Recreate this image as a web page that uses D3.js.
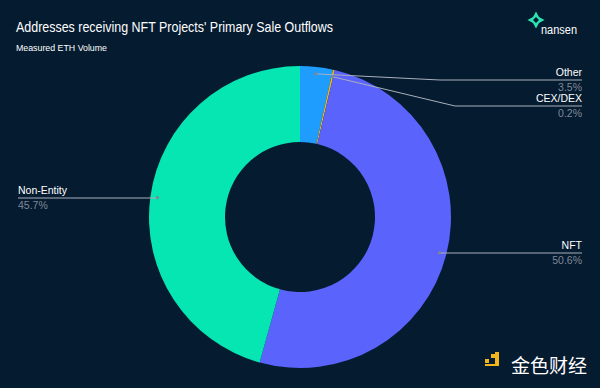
<!DOCTYPE html>
<html>
<head>
<meta charset="utf-8">
<script src="https://d3js.org/d3.v7.min.js"></script>
<style>
body { margin: 0; background: #051b30; }
text { font-family: "Liberation Sans", Arial, sans-serif; }
</style>
</head>
<body>
<script>
// chart data
var categories = ["Other", "CEX/DEX", "NFT", "Non-Entity"];
var shares = [3.5, 0.2, 50.6, 45.7];
var colors = ["#1e9dff", "#e9b824", "#5a63fb", "#05e6b3"];
// label placement: side of the chart and y of the leader line
var labelSide = ["right", "right", "right", "left"];
var labelLineY = [80, 106, 253, 198];

var W = 600, H = 388;
var cx = 300, cy = 217;
var rOuter = 151, rInner = 75;

var svg = d3.select("body").append("svg")
  .attr("width", W).attr("height", H);

svg.append("rect").attr("width", W).attr("height", H).attr("fill", "#051b30");

//TITLE
svg.append("text").attr("x", 16).attr("y", 32)
  .attr("font-size", 14).attr("fill", "#ffffff")
  .attr("textLength", 317).attr("lengthAdjust", "spacingAndGlyphs")
  .text("Addresses receiving NFT Projects' Primary Sale Outflows");
svg.append("text").attr("x", 16).attr("y", 51)
  .attr("font-size", 9.5).attr("fill", "#ffffff")
  .attr("textLength", 91).attr("lengthAdjust", "spacingAndGlyphs")
  .text("Measured ETH Volume");

//NANSEN LOGO
var logo = svg.append("g").attr("transform", "translate(536,20)");
logo.append("path")
  .attr("d", "M0,-8.5 L3,-3 L8.5,0 L3,3 L0,8.5 L-3,3 L-8.5,0 L-3,-3 Z")
  .attr("fill", "#2de3b4");
logo.append("path")
  .attr("d", "M0,-3 L3,0 L0,3 L-3,0 Z")
  .attr("fill", "#051b30");
svg.append("text").attr("x", 541).attr("y", 34)
  .attr("font-size", 12).attr("fill", "#ffffff")
  .attr("textLength", 36).attr("lengthAdjust", "spacingAndGlyphs")
  .text("nansen");

//DONUT
var data = categories.map(function(c, i) {
  return {name: c, value: shares[i], color: colors[i], side: labelSide[i], ly: labelLineY[i]};
});

var pie = d3.pie().sort(null).value(function(d) { return d.value; });
var arc = d3.arc().innerRadius(rInner).outerRadius(rOuter);
var dotArc = d3.arc().innerRadius(144).outerRadius(144);

var g = svg.append("g").attr("transform", "translate(" + cx + "," + cy + ")");
var arcs = pie(data);

g.selectAll("path.slice").data(arcs).enter().append("path")
  .attr("class", "slice")
  .attr("d", arc)
  .attr("fill", function(d) { return d.data.color; });

//LABELS
var xRight = 582, xLeft = 18;
arcs.forEach(function(d) {
  var p = dotArc.centroid(d);
  var px = cx + p[0], py = cy + p[1];
  var endX = d.data.side == "right" ? xRight : xLeft;
  var bendX;
  if (d.data.name == "CEX/DEX") bendX = 455;
  else if (d.data.name == "Other") bendX = 440;
  else bendX = px;
  svg.append("polyline")
    .attr("points", [[px, py], [bendX, d.data.ly], [endX, d.data.ly]].join(" "))
    .attr("fill", "none").attr("stroke", "#a9b0bb").attr("stroke-width", 1);
  svg.append("circle").attr("cx", px).attr("cy", py).attr("r", 1.6)
    .attr("fill", "#7d8794");
  var anchor = d.data.side == "right" ? "end" : "start";
  svg.append("text").attr("x", endX).attr("y", d.data.ly - 4)
    .attr("text-anchor", anchor).attr("font-size", 10.5).attr("fill", "#ffffff")
    .text(d.data.name);
  svg.append("text").attr("x", endX).attr("y", d.data.ly + 11)
    .attr("text-anchor", anchor).attr("font-size", 10.5).attr("fill", "#7f8998")
    .text(d.data.value.toFixed(1) + "%");
});

//WATERMARK
var wm = svg.append("g").attr("transform", "translate(485,352)");
wm.append("rect").attr("x", 0).attr("y", 7).attr("width", 4).attr("height", 4).attr("fill", "#f2b51c");
wm.append("rect").attr("x", 6).attr("y", 2).attr("width", 5).attr("height", 4).attr("fill", "#f2b51c");
wm.append("path").attr("d", "M10,0 L14,0 L14,14 L0,14 L0,12 L10,12 Z").attr("fill", "#f2b51c");
svg.append("text").attr("x", 511).attr("y", 373)
  .attr("font-size", 19).attr("fill", "#ffffff")
  .attr("style", "font-family:'Noto Sans CJK SC'")
  .text("金色财经");
</script>
</body>
</html>
